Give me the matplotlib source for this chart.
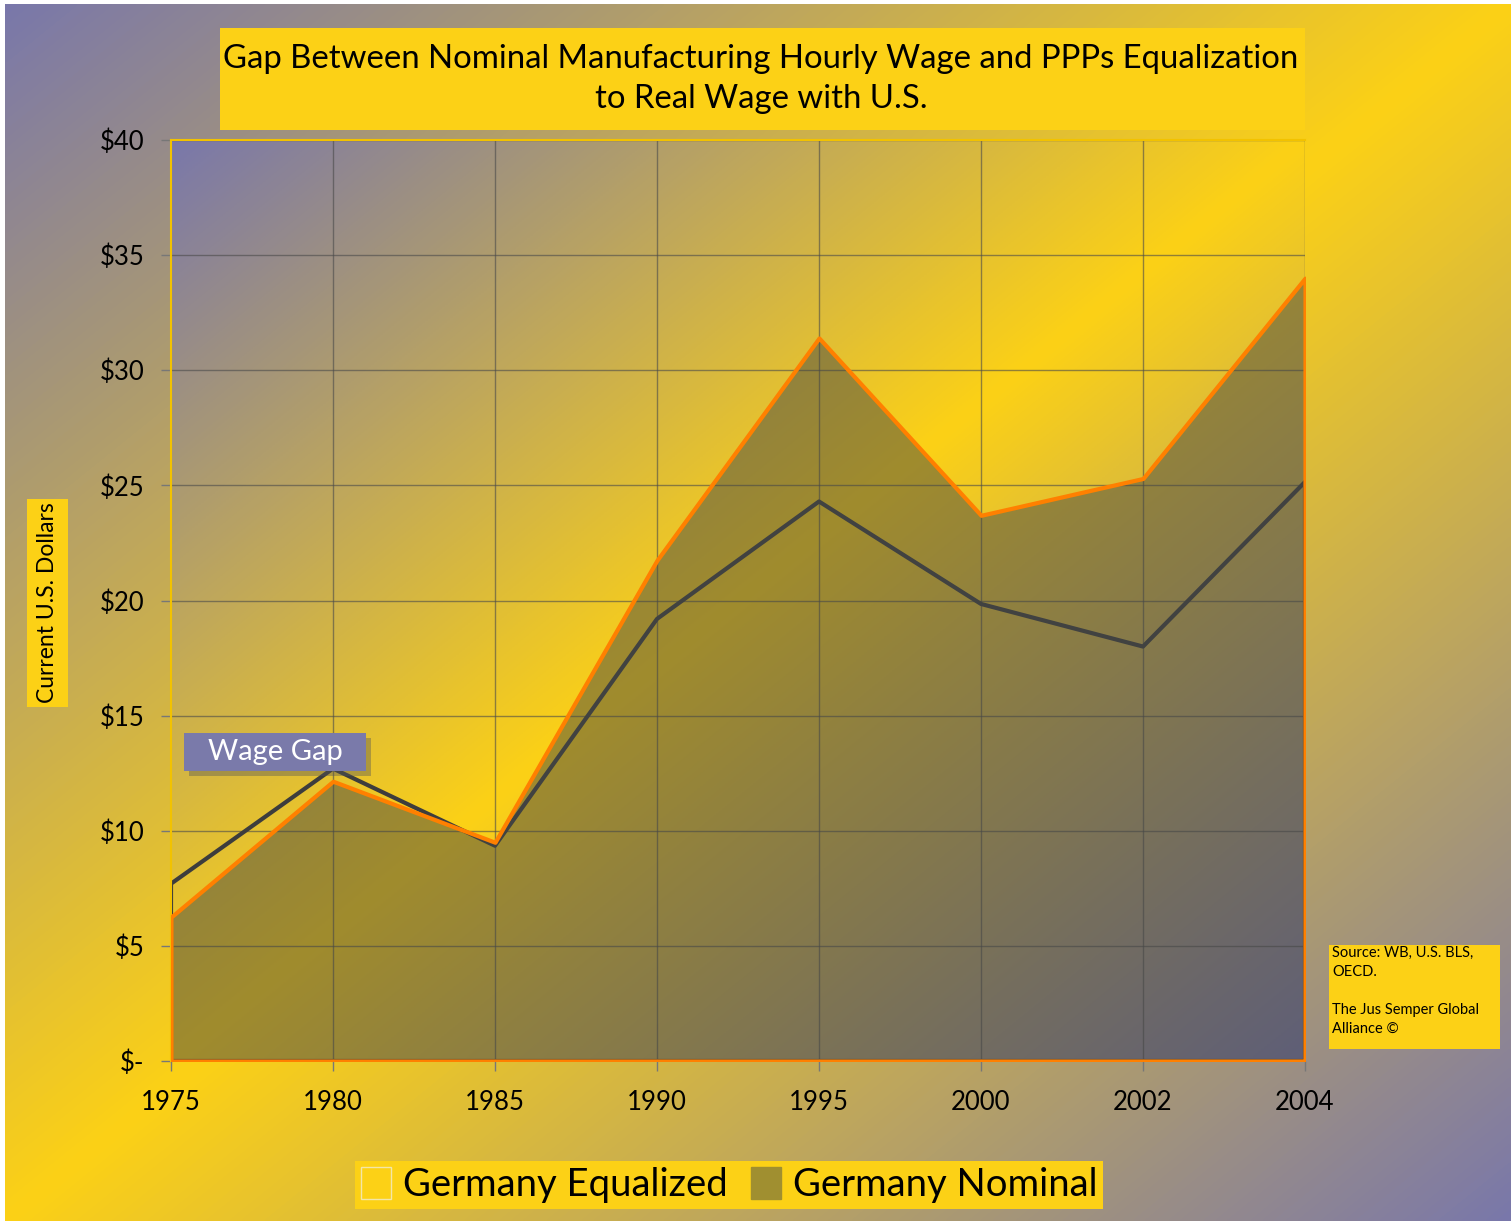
import numpy as np
import matplotlib.pyplot as plt
from matplotlib.colors import LinearSegmentedColormap
from matplotlib.patches import Rectangle, Patch

years = ['1975', '1980', '1985', '1990', '1995', '2000', '2002', '2004']
nominal = [6.25, 12.15, 9.5, 21.75, 31.4, 23.7, 25.3, 34.0]
equalized = [7.7, 12.7, 9.35, 19.2, 24.3, 19.85, 18.0, 25.15]
yticks = [0, 5, 10, 15, 20, 25, 30, 35, 40]
ylabels = ['$-', '$5', '$10', '$15', '$20', '$25', '$30', '$35', '$40']

W, H = 1511, 1225
plt.rcParams['font.family'] = ['Lato', 'DejaVu Sans']

purple = (0.478, 0.470, 0.667)
yellow = (0.988, 0.820, 0.086)
cmap = LinearSegmentedColormap.from_list('bg', [purple, yellow, purple])

def grad(n=400):
    u = np.linspace(0, 1, n)
    return (u[None, :] + u[:, None]) / 2

def fx(px):
    return px / W

def fy(py):
    return 1 - py / H

fig = plt.figure(figsize=(W / 100, H / 100), dpi=100)
fig.patch.set_facecolor('white')

# background gradient over whole figure
bg = fig.add_axes([fx(5), fy(1221), 1 - fx(5), fy(4) - fy(1221)])
bg.imshow(grad(), cmap=cmap, aspect='auto', interpolation='bilinear', vmin=0, vmax=1)
bg.axis('off')
bg.set_zorder(-10)

# main axes
ax = fig.add_axes([fx(171), fy(1061), fx(1305) - fx(171), fy(140) - fy(1061)])
x = np.arange(len(years))
ax.imshow(grad(), cmap=cmap, aspect='auto', extent=[0, 7, 0, 40], zorder=0,
          interpolation='bilinear', vmin=0, vmax=1)

for v in yticks[1:]:
    ax.axhline(v, color='#4a4a4a', lw=1, alpha=0.6, zorder=1)
for i in x[1:]:
    ax.axvline(i, color='#4a4a4a', lw=1, alpha=0.6, zorder=1)

ax.fill_between(x, 0, equalized, facecolor='none', edgecolor='#3d3d3d', lw=3, zorder=2)
ax.fill_between(x, 0, nominal, facecolor=(0.27, 0.28, 0.27, 0.5), edgecolor='#ff8000', lw=3, zorder=3)

ax.set_xlim(0, 7)
ax.set_ylim(0, 40)
ax.set_xticks(x)
ax.set_xticklabels(years)
ax.set_yticks(yticks)
ax.set_yticklabels(ylabels)
ax.tick_params(axis='both', labelsize=18.5, length=7, color='#777777', width=1)
ax.tick_params(axis='y', pad=12)
ax.tick_params(axis='x', pad=14)
for s in ['right', 'bottom']:
    ax.spines[s].set_visible(False)
for s in ['top', 'left']:
    ax.spines[s].set_color('#f2c200')
    ax.spines[s].set_linewidth(1.5)

# title box
fig.patches.append(Rectangle((fx(220), fy(130)), fx(1305) - fx(220), fy(28) - fy(130),
                             transform=fig.transFigure, facecolor='#fcd116', edgecolor='none', zorder=5))
fig.text(fx(761), fy(79), 'Gap Between Nominal Manufacturing Hourly Wage and PPPs Equalization\nto Real Wage with U.S.',
         ha='center', va='center', fontsize=23.7, linespacing=1.42, zorder=6)

# y label box
fig.patches.append(Rectangle((fx(27), fy(707)), fx(68) - fx(27), fy(499) - fy(707),
                             transform=fig.transFigure, facecolor='#fcd116', edgecolor='none', zorder=5))
fig.text(fx(48), fy(603), 'Current U.S. Dollars', rotation=90, ha='center', va='center',
         fontsize=16.5, zorder=6)

# wage gap label with shadow
fig.patches.append(Rectangle((fx(189), fy(776)), fx(366) - fx(184), fy(733) - fy(771),
                             transform=fig.transFigure, facecolor='#555555', alpha=0.4,
                             edgecolor='none', zorder=5))
fig.patches.append(Rectangle((fx(184), fy(771)), fx(366) - fx(184), fy(733) - fy(771),
                             transform=fig.transFigure, facecolor='#7a7aaa', edgecolor='none', zorder=6))
fig.text(fx(275), fy(752), 'Wage Gap', ha='center', va='center', fontsize=21, color='white', zorder=7)

# source box
fig.patches.append(Rectangle((fx(1329), fy(1049)), fx(1500) - fx(1329), fy(945) - fy(1049),
                             transform=fig.transFigure, facecolor='#fcd116', edgecolor='none', zorder=5))
fig.text(fx(1332), fy(946), 'Source: WB, U.S. BLS,\nOECD.\n\nThe Jus Semper Global\nAlliance ©',
         ha='left', va='top', fontsize=10.5, linespacing=1.45, zorder=6)

# legend
handles = [Patch(facecolor='#fcd116', edgecolor='#f3e6a8', label='Germany Equalized'),
           Patch(facecolor='#a08f30', edgecolor='#a08f30', label='Germany Nominal')]
leg = fig.legend(handles=handles, loc='center', bbox_to_anchor=(fx(729), fy(1185)), ncol=2,
                 fontsize=27.5, frameon=True, fancybox=False, handlelength=0.8, handleheight=0.9,
                 handletextpad=0.3, columnspacing=0.6, borderpad=0.15)
leg.get_frame().set_facecolor('#fcd116')
leg.get_frame().set_edgecolor('none')
leg.get_frame().set_alpha(1)

fig.savefig('out.png', dpi=100)
